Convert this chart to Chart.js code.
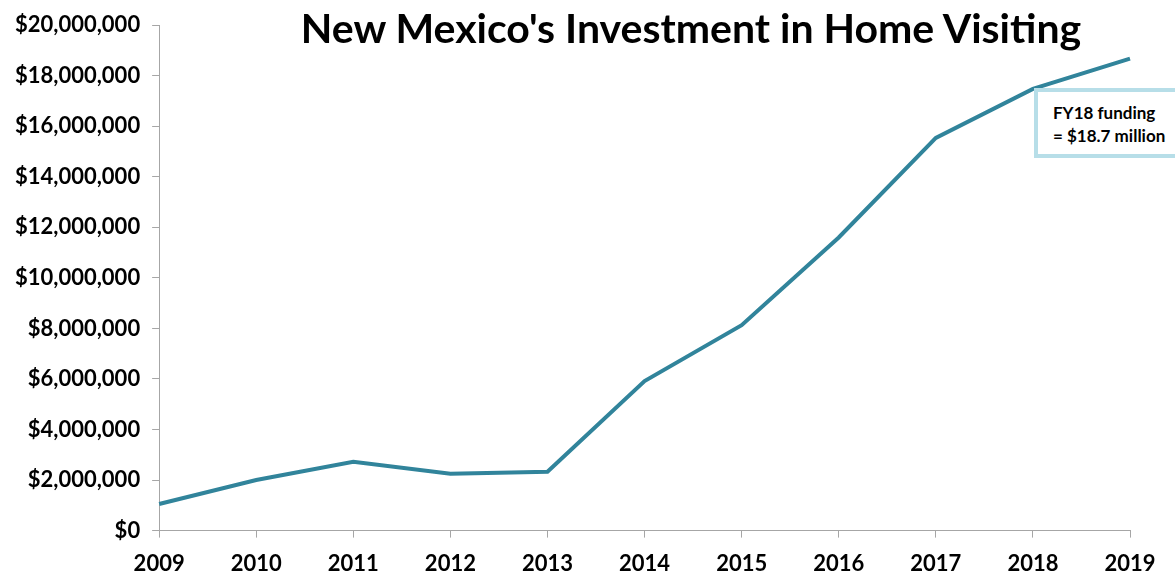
<!DOCTYPE html>
<html>
<head>
<meta charset="utf-8">
<script src="https://cdn.jsdelivr.net/npm/chart.js@4"></script>
<style>
  body { margin: 0; background: #fff; }
  #wrap { position: relative; width: 1175px; height: 572px; overflow: hidden; }
  #title { position: absolute; left: 0; width: 1382px; top: 3px; text-align: center;
    font: bold 41px Lato, sans-serif; color: #000; pointer-events: none; }
  #note { position: absolute; left: 1034px; top: 88px; width: 160px; height: 70px;
    border: 4px solid #b7dee8; background: #fff; box-sizing: border-box;
    font: bold 17px Lato, sans-serif; line-height: 23px; padding: 9px 0 0 15px; color: #000; }
</style>
</head>
<body>
<div id="wrap">
  <canvas id="chart" width="1175" height="590"></canvas>
  <div id="title">New Mexico's Investment in Home Visiting</div>
  <div id="note">FY18 funding<br>= $18.7 million</div>
</div>
<script>
const years = ['2009', '2010', '2011', '2012', '2013', '2014', '2015', '2016', '2017', '2018', '2019'];
const funding = [1050000, 2000000, 2720000, 2250000, 2330000, 5920000, 8130000, 11600000, 15540000, 17480000, 18680000];

const ctx = document.getElementById('chart').getContext('2d');

new Chart(ctx, {
  type: 'line',
  data: {
    labels: years,
    datasets: [{
      data: funding,
      borderColor: '#31849b',
      borderWidth: 4,
      pointRadius: 0,
      tension: 0,
      fill: false,
    }],
  },
  options: {
    responsive: false,
    animation: false,
    layout: { padding: { left: 3, right: 45, top: 19, bottom: 0 } },
    plugins: { legend: { display: false }, tooltip: { enabled: false } },
    scales: {
      x: {
        offset: false,
        grid: { drawOnChartArea: false, color: '#a6a6a6', tickLength: 7 },
        border: { color: '#a6a6a6' },
        ticks: { color: '#000', font: { family: 'Lato', size: 22, weight: 'bold' }, padding: 13, maxRotation: 0 },
      },
      y: {
        min: 0,
        max: 20000000,
        grid: { drawOnChartArea: false, color: '#a6a6a6', tickLength: 7 },
        border: { color: '#a6a6a6' },
        ticks: {
          stepSize: 2000000,
          color: '#000',
          padding: 12,
          font: { family: 'Lato', size: 22, weight: 'bold' },
          callback: (v) => '$' + v.toLocaleString('en-US'),
        },
      },
    },
  },
});
</script>
</body>
</html>
